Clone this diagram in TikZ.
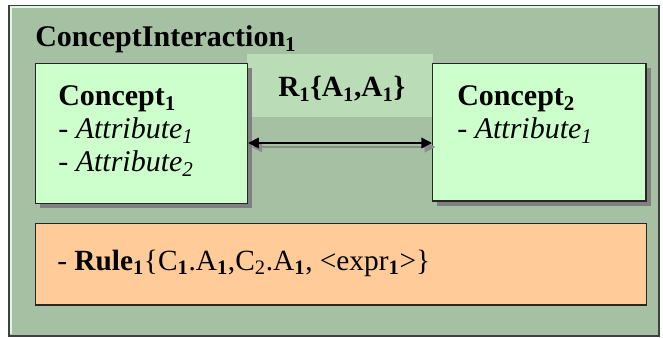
\documentclass[tikz,border=0pt]{standalone}
\usepackage{fontspec}
\setmainfont{Liberation Serif}
\usetikzlibrary{arrows.meta,shadows}

\definecolor{framegreen}{RGB}{166,192,164}
\definecolor{conceptgreen}{RGB}{204,255,204}
\definecolor{bandgreen}{RGB}{186,221,184}
\definecolor{ruleorange}{RGB}{255,204,153}
\definecolor{hilite}{RGB}{222,250,222}

\begin{document}
\begin{tikzpicture}[
    x=0.75pt, y=-0.75pt,
    font=\fontsize{22.5}{26}\selectfont,
    % marco exterior de la interaccion
    frame/.style={draw=black!75, line width=1.2pt, fill=framegreen, minimum width=487.5pt, minimum height=247.5pt, anchor=north west, inner sep=0pt},
    % cajas de conceptos con sombra
    concept/.style={draw=black!85, line width=0.9pt, fill=conceptgreen, anchor=north west, inner sep=0pt,
        drop shadow={shadow xshift=3.5pt, shadow yshift=-3.5pt, fill=black!50, opacity=1}},
    band/.style={fill=bandgreen, anchor=north west, inner sep=0pt, minimum width=139.5pt, minimum height=47pt},
    rulebox/.style={draw=black!85, line width=0.9pt, fill=ruleorange, anchor=north west, inner sep=0pt, minimum width=458pt, minimum height=61pt},
    txt/.style={anchor=base west, inner sep=0pt},
    heading/.style={txt, font=\fontsize{22.5}{26}\selectfont\bfseries},
    small/.style={txt, font=\fontsize{22}{26}\selectfont},
    link/.style={line width=1.2pt, draw=black, {Triangle[length=8pt,width=8pt]}-{Triangle[length=8pt,width=8pt]}},
    linkshadow/.style={link, draw=black!45, fill=black!45}
]

\useasboundingbox (0,0) rectangle (663,338);

% --- Marco ---
\node[frame] (frame) at (8,5) {};
\draw[hilite, line width=1.5pt] ([xshift=2pt,yshift=2pt]frame.south west) |- ([xshift=-1.5pt,yshift=-1.8pt]frame.north east);
\node[heading] (title) at (35,47) {ConceptInteraction\textsubscript{1}};

% --- Relacion ---
\node[band] (rband) at (247,54) {};
\node[small, font=\fontsize{22}{26}\selectfont\bfseries] (rlabel) at (278,97) {R\textsubscript{1}\{A\textsubscript{1},A\textsubscript{1}\}};

% --- Conceptos ---
\node[concept, minimum width=159pt, minimum height=105pt] (c1) at (35,63) {};
\node[concept, minimum width=160pt, minimum height=103pt] (c2) at (432,63) {};

\node[heading] (c1name) at (58,106) {Concept\textsubscript{1}};
\node[txt] (c1a1) at (58,139) {- \textit{Attribute\textsubscript{1}}};
\node[txt] (c1a2) at (58,172) {- \textit{Attribute\textsubscript{2}}};

\node[heading] (c2name) at (457,106) {Concept\textsubscript{2}};
\node[txt] (c2a1) at (457,139) {- \textit{Attribute\textsubscript{1}}};

% --- Enlace ---
\coordinate (ay) at (340,143);
\draw[linkshadow, transform canvas={xshift=2.5pt, yshift=-3pt}] (c1.east |- ay) -- (c2.west |- ay);
\draw[link] (c1.east |- ay) -- (c2.west |- ay);

% --- Regla ---
\node[rulebox] (rule) at (35,223) {};
\node[small] (ruletext) at (57,270) {- \textbf{Rule\textsubscript{1}}\{C\textsubscript{\textbf{1}}.A\textsubscript{\textbf{1}},C\textsubscript{2}.A\textsubscript{\textbf{1}}, <expr\textsubscript{\textbf{1}}>\}};

\end{tikzpicture}
\end{document}
